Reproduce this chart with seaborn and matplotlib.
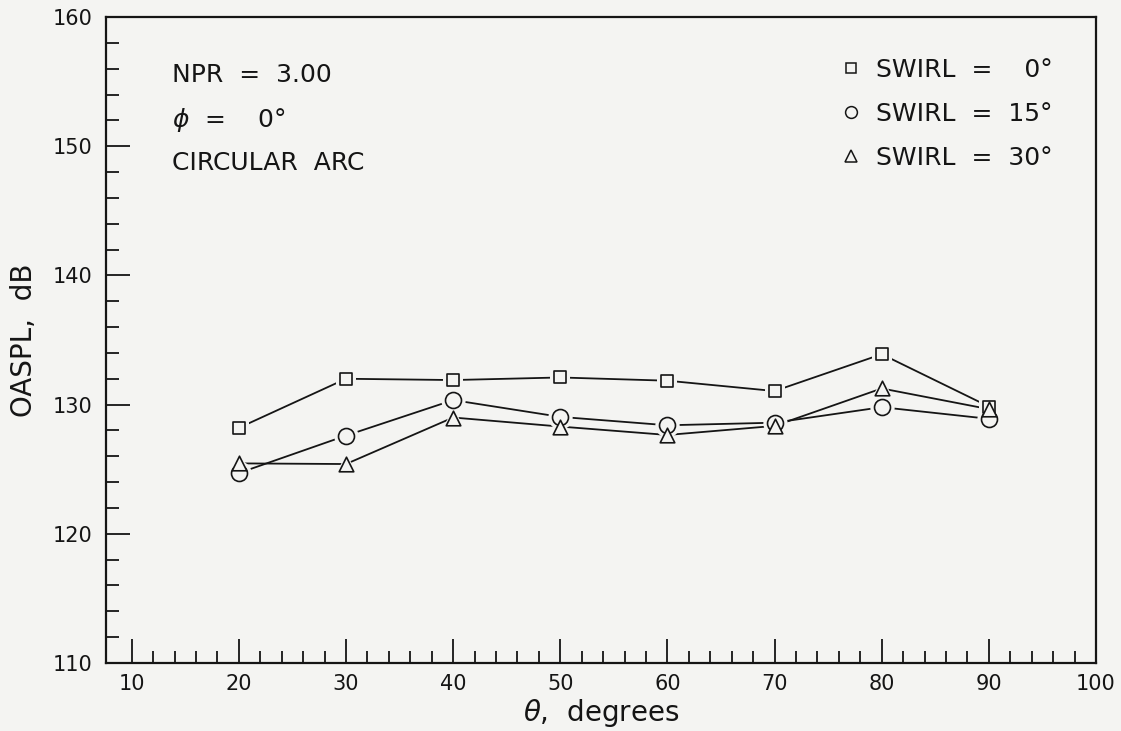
import numpy as np
import pandas as pd
import matplotlib
matplotlib.use("Agg")
import matplotlib.pyplot as plt
import seaborn as sns
from matplotlib.ticker import MultipleLocator, FixedLocator
from matplotlib.lines import Line2D

# Overall sound pressure level vs. directivity angle for three swirl settings
theta = [20, 30, 40, 50, 60, 70, 80, 90]
oaspl_swirl_0 = [128.2, 132.0, 131.9, 132.1, 131.85, 131.05, 133.9, 129.85]
oaspl_swirl_15 = [124.7, 127.6, 130.35, 129.05, 128.4, 128.6, 129.8, 128.9]
oaspl_swirl_30 = [125.45, 125.4, 129.0, 128.3, 127.65, 128.35, 131.25, 129.65]
swirl_labels = ["SWIRL  =    0\u00b0", "SWIRL  =  15\u00b0", "SWIRL  =  30\u00b0"]
x_ticks = [10, 20, 30, 40, 50, 60, 70, 80, 90, 100]
y_ticks = [110, 120, 130, 140, 150, 160]

bg = "#f4f4f2"
ink = "#151515"

sns.set_theme(style="white")
plt.rcParams["font.family"] = ["DejaVu Sans"]
plt.rcParams["mathtext.fontset"] = "dejavusans"

df = pd.DataFrame({
    "theta": theta * 3,
    "oaspl": oaspl_swirl_0 + oaspl_swirl_15 + oaspl_swirl_30,
    "swirl": sum([[lab] * len(theta) for lab in swirl_labels], []),
})

fig = plt.figure(figsize=(11.21, 7.31), dpi=100, facecolor=bg)
ax = fig.add_axes([106 / 1121, 1 - 663 / 731, 990 / 1121, 646 / 731])
ax.set_facecolor(bg)

marker_style = {
    swirl_labels[0]: ("s", 9.0),
    swirl_labels[1]: ("o", 11.5),
    swirl_labels[2]: ("^", 10.5),
}

# connecting lines
for lab in swirl_labels:
    sub = df[df["swirl"] == lab]
    sns.lineplot(data=sub, x="theta", y="oaspl", color=ink, lw=1.3,
                 ax=ax, zorder=2, legend=False)

# background-coloured halos leave a small gap between lines and symbols
for lab in swirl_labels:
    sub = df[df["swirl"] == lab]
    m, ms = marker_style[lab]
    sns.scatterplot(data=sub, x="theta", y="oaspl", marker=m, s=(ms + 6) ** 2,
                    color=bg, edgecolor=bg, linewidth=0, ax=ax, zorder=3,
                    legend=False)

# open symbols
for lab in swirl_labels:
    sub = df[df["swirl"] == lab]
    m, ms = marker_style[lab]
    sns.scatterplot(data=sub, x="theta", y="oaspl", marker=m, s=ms ** 2,
                    color=bg, edgecolor=ink, linewidth=1.2, ax=ax, zorder=4,
                    legend=False)

ax.set_xlim(7.6, 100)
ax.set_ylim(110, 160)
ax.xaxis.set_major_locator(FixedLocator(x_ticks))
ax.xaxis.set_minor_locator(FixedLocator([v for v in np.arange(12, 100, 2) if v % 10]))
ax.yaxis.set_major_locator(FixedLocator(y_ticks))
ax.yaxis.set_minor_locator(MultipleLocator(2))
ax.set_xticklabels([str(v) for v in x_ticks])
ax.set_yticklabels([str(v) for v in y_ticks])

ax.tick_params(axis="both", which="both", bottom=True, left=True,
               top=False, right=False)
ax.tick_params(axis="both", which="major", direction="in", length=17.5, width=1.3,
               color=ink, labelsize=15, labelcolor=ink)
ax.tick_params(axis="both", which="minor", direction="in", length=9, width=1.3,
               color=ink)
ax.tick_params(axis="x", which="major", pad=8)
ax.tick_params(axis="y", which="major", pad=10)

for side, sp in ax.spines.items():
    sp.set_visible(True)
    sp.set_color(ink)
    sp.set_linewidth(1.6)

ax.set_xlabel(r"$\theta$,  degrees", fontsize=20, color=ink, labelpad=2)
ax.set_ylabel("OASPL,  dB", fontsize=20, color=ink, labelpad=10)

# test condition notes
note_kw = dict(transform=ax.transAxes, fontsize=18, color=ink, ha="left", va="center")
ax.text(0.0667, 0.910, "NPR  =  3.00", **note_kw)
ax.text(0.0667, 0.8406, "$\\phi$  =    0\u00b0", **note_kw)
ax.text(0.0667, 0.774, "CIRCULAR  ARC", **note_kw)

handles = []
for lab, ms in zip(swirl_labels, [6.5, 8.5, 8.0]):
    m = marker_style[lab][0]
    handles.append(Line2D([], [], marker=m, ls="none", ms=ms, mfc=bg, mec=ink, mew=1.1))
leg = ax.legend(handles, swirl_labels, loc="upper right", frameon=False,
                fontsize=18, handlelength=0.8, handletextpad=0.6,
                labelspacing=0.8, bbox_to_anchor=(0.979, 0.971))
for t in leg.get_texts():
    t.set_color(ink)

fig.savefig("out.png", dpi=100, facecolor=bg)
